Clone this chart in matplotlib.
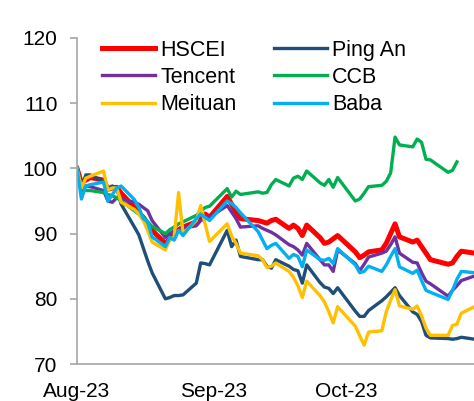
import numpy as np
import pandas as pd
import matplotlib
matplotlib.use("Agg")
import matplotlib.pyplot as plt
import matplotlib.dates as mdates

plt.rcParams['font.family'] = ['Liberation Sans', 'DejaVu Sans']

# trading days (HK closures removed)
dates = pd.bdate_range('2023-08-01', '2023-10-30', freq='C',
                       holidays=['2023-09-01', '2023-09-08', '2023-10-02', '2023-10-23'])

hscei = [100, 97.8, 98.2, 98.6, 98.2, 96.8, 97.0, 97.1, 96.2, 94.0, 93.2, 92.5, 91.5, 90.5,
         88.5, 89.2, 89.9, 90.6, 91.0, 91.8, 92.5, 93.0, 92.5,
         95.7, 94.5, 93.2, 92.3, 92.0, 91.8, 91.6, 92.0, 92.2, 90.8, 91.3, 90.8, 89.7, 91.3,
         89.4, 88.5, 88.7, 89.2, 89.7,
         87.2, 86.3, 86.7, 87.2, 87.5, 88.5, 90.0, 91.5, 89.5, 88.7, 89.0, 88.0, 87.0, 86.0,
         85.3, 85.5, 86.5, 87.3, 87.0]
pingan = [100, 97.0, 99.0, 99.0, 98.0, 97.0, 97.3, 97.0, 94.5, 91.0, 89.8, 87.8, 85.8, 84.0,
          80.0, 80.2, 80.5, 80.5, 80.6, 82.4, 85.5, 85.4, 85.2,
          90.5, 88.0, 89.0, 86.5, 86.0, 86.0, 85.0, 84.7, 86.0, 85.0, 84.5, 84.3, 82.4, 85.2,
          82.5, 81.8, 81.6, 80.8, 81.7,
          78.1, 77.3, 77.3, 78.2, 79.7, 80.3, 81.0, 81.7, 80.5, 78.0, 77.6, 76.5, 74.4, 74.0,
          73.9, 73.8, 73.9, 74.1, 73.8]
tencent = [100, 96.5, 97.3, 97.2, 96.6, 95.0, 94.8, 95.5, 95.3, 94.8, 94.5, 94.0, 93.5, 92.0,
           89.4, 90.0, 90.4, 90.3, 90.8, 91.2, 92.0, 92.3, 92.5,
           94.3, 93.3, 92.3, 91.0, 91.2, 90.8, 90.5, 90.2, 89.8, 88.3, 88.0, 87.5, 86.7, 88.5,
           86.0, 85.2, 85.2, 84.2, 87.5,
           85.4, 84.3, 85.3, 86.4, 87.0, 87.3, 88.3, 89.5, 87.0, 85.6, 85.5, 84.0, 82.7, 82.3,
           80.4, 81.3, 82.0, 82.8, 83.5]
ccb = [100, 97.0, 96.6, 96.6, 96.3, 96.0, 95.8, 95.5, 95.0, 93.5, 93.0, 92.6, 91.8, 91.1,
       90.0, 90.6, 91.0, 91.5, 91.8, 92.8, 93.4, 94.0, 94.2,
       96.9, 95.6, 96.5, 96.0, 96.4, 96.2, 96.3, 97.5, 98.3, 97.3, 98.5, 98.8, 98.3, 99.6,
       97.8, 97.4, 98.3, 97.1, 98.6,
       95.0, 95.3, 96.2, 97.2, 97.4, 98.0, 99.3, 104.8, 103.6, 103.3, 104.5, 104.0, 101.4, 101.3,
       99.4, 99.7, 101.0, np.nan, np.nan]
meituan = [100, 97.0, 98.5, 98.8, 99.6, 96.7, 97.0, 97.0, 94.8, 93.7, 93.0, 92.0, 90.5, 88.7,
           87.5, 89.0, 89.5, 96.3, 90.0, 92.0, 94.3, 91.5, 88.8,
           91.5, 89.6, 88.5, 87.0, 86.6, 86.0, 84.8, 85.0, 85.5, 84.2, 83.3, 82.0, 80.2, 82.7,
           80.5, 79.5, 78.0, 76.3, 78.8,
           75.8, 74.3, 72.9, 74.9, 75.1, 78.0, 79.8, 81.4, 78.9, 78.4, 78.9, 77.4, 75.5, 74.4,
           74.4, 75.9, 76.1, 77.8, 78.8]
baba = [100, 95.3, 97.3, 97.5, 97.9, 95.0, 96.0, 97.0, 97.3, 95.2, 94.0, 92.3, 91.8, 89.5,
        88.0, 89.4, 89.0, 90.5, 89.7, 92.3, 93.0, 92.5, 92.0,
        95.0, 94.6, 94.0, 93.2, 90.3, 89.0, 87.7, 88.2, 88.5, 86.2, 86.8, 86.5, 84.9, 87.5,
        86.0, 85.9, 86.2, 85.4, 87.7,
        85.2, 84.0, 84.2, 85.0, 84.2, 85.2, 86.5, 87.7, 84.9, 83.9, 84.4, 82.8, 81.3, 81.0,
        79.9, 81.3, 83.0, 84.2, 84.0]

names = ['HSCEI', 'Ping An', 'Tencent', 'CCB', 'Meituan', 'Baba']
series = [hscei, pingan, tencent, ccb, meituan, baba]
colors = ['#FF0000', '#1F4E79', '#7030A0', '#00B050', '#FFC000', '#00B0F0']
widths = [3.6, 2.4, 2.4, 2.4, 2.4, 2.4]

fig = plt.figure(figsize=(4.74, 4.01), dpi=100)
ax = fig.add_axes([77 / 474, 37 / 401, 402 / 474, 326 / 401])

lines = []
for name, vals, c, w in zip(names, series, colors, widths):
    ln, = ax.plot(dates, vals, color=c, lw=w, label=name, solid_joinstyle='round')
    lines.append(ln)

ax.set_ylim(70, 120)
ax.set_yticks(range(70, 121, 10))
ax.set_xlim(pd.Timestamp('2023-08-01'), pd.Timestamp('2023-10-31'))
ax.xaxis.set_major_locator(mdates.MonthLocator())
ax.xaxis.set_major_formatter(mdates.DateFormatter('%b-%y'))

for s in ['top', 'right']:
    ax.spines[s].set_visible(False)
for s in ['left', 'bottom']:
    ax.spines[s].set_color('#A6A6A6')
    ax.spines[s].set_linewidth(1.2)
ax.tick_params(axis='y', length=5, width=1.2, color='#A6A6A6', pad=9, labelsize=15)
ax.tick_params(axis='x', length=0, pad=13, labelsize=15)

order = [0, 2, 4, 1, 3, 5]
ax.legend([lines[i] for i in order], [names[i] for i in order], ncol=2,
          loc='upper left', bbox_to_anchor=(102 / 474, 1 - 40 / 401),
          bbox_transform=fig.transFigure, frameon=False, fontsize=15.5,
          handlelength=2.45, handletextpad=0.25, columnspacing=1.75,
          labelspacing=0.28, borderpad=0, borderaxespad=0)

fig.savefig('out.png', dpi=100)
